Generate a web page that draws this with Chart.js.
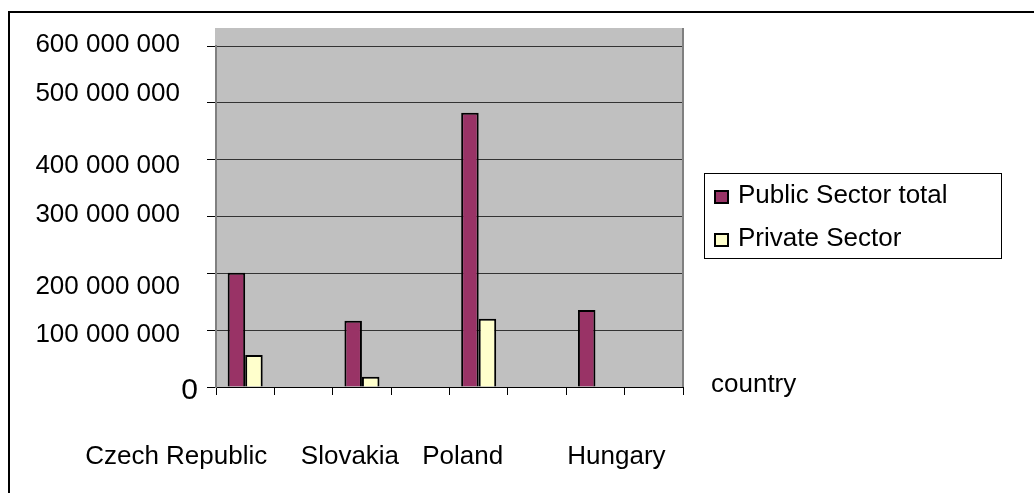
<!DOCTYPE html>
<html>
<head>
<meta charset="utf-8">
<script src="https://cdn.jsdelivr.net/npm/chart.js@4"></script>
<style>
  html, body { margin: 0; padding: 0; background: #fff; }
</style>
</head>
<body>
<canvas id="chart" width="1034" height="493"></canvas>
<script>
const categories = ["Czech Republic", "", "Slovakia", "", "Poland", "", "Hungary", ""];
const publicSector = [201000000, null, 116700000, null, 482700000, null, 135500000, null];
const privateSector = [56300000, null, 18100000, null, 120200000, null, null, null];
const seriesNames = ["Public Sector total", "Private Sector"];
const axisTitle = "country";

// hand placement of the texts, the way the original sheet laid them out
const xLabelShift = [-69, 0, -12, 0, -16, 0, 21, 0];
const yLabelShift = [4, 4.5, 13, -2, 6, -9.5, -1.5];

const FONT = "'Liberation Sans', Arial, sans-serif";
const fmt = (v) => String(v).replace(/\B(?=(\d{3})+(?!\d))/g, " ");

const excelLook = {
    id: "excelLook",
    beforeDraw(chart) {
        const { ctx, chartArea: a } = chart;
        ctx.save();
        ctx.fillStyle = "#c0c0c0";
        ctx.fillRect(a.left - 1, a.top - 18, a.right - a.left + 1, a.bottom - a.top + 18);
        ctx.restore();
    },
    beforeDatasetsDraw(chart) {
        const { ctx, chartArea: a } = chart;
        ctx.save();
        ctx.strokeStyle = "#808080";
        ctx.lineWidth = 2;
        ctx.beginPath();
        ctx.moveTo(a.right, a.top - 18);
        ctx.lineTo(a.right, a.bottom);
        ctx.stroke();
        ctx.restore();
    },
    afterDraw(chart) {
        const { ctx, chartArea: a } = chart;
        const x = chart.scales.x;
        const y = chart.scales.y;
        ctx.save();
        ctx.fillStyle = "#000";

        // value labels
        ctx.textAlign = "right";
        ctx.textBaseline = "middle";
        y.ticks.forEach((t, i) => {
            const zero = t.value === 0;
            ctx.font = (zero ? 30 : 26) + "px " + FONT;
            ctx.fillText(fmt(t.value), zero ? a.left - 18 : a.left - 36,
                y.getPixelForValue(t.value) + (yLabelShift[i] || 0));
        });

        // country labels
        ctx.font = "26px " + FONT;
        ctx.textAlign = "center";
        categories.forEach((c, i) => {
            if (!c) return;
            ctx.fillText(c, x.getPixelForValue(i) + xLabelShift[i], a.bottom + 70);
        });

        // axis title
        ctx.textAlign = "left";
        ctx.textBaseline = "alphabetic";
        ctx.fillText(axisTitle, a.right + 28, a.bottom + 5);

        // legend
        const lx = a.right + 21, ly = a.top + 127;
        ctx.strokeStyle = "#000";
        ctx.lineWidth = 1;
        ctx.strokeRect(lx + 0.5, ly + 0.5, 297, 85);
        ctx.textBaseline = "middle";
        chart.data.datasets.forEach((ds, i) => {
            const cy = ly + 24 + i * 43;
            ctx.fillStyle = ds.backgroundColor;
            ctx.fillRect(lx + 10, cy - 7, 15, 14);
            ctx.lineWidth = 2;
            ctx.strokeRect(lx + 11, cy - 6, 13, 12);
            ctx.fillStyle = "#000";
            ctx.fillText(ds.label, lx + 34, cy - 1);
        });

        // outer frame
        ctx.fillRect(8, 11, chart.width, 2);
        ctx.fillRect(8, 11, 2, chart.height);
        ctx.restore();
    }
};

new Chart(document.getElementById("chart"), {
    type: "bar",
    data: {
        labels: categories,
        datasets: [
            {
                label: seriesNames[0],
                data: publicSector,
                backgroundColor: "#993366",
                borderColor: "#000",
                borderWidth: 2
            },
            {
                label: seriesNames[1],
                data: privateSector,
                backgroundColor: "#ffffcc",
                borderColor: "#000",
                borderWidth: 2
            }
        ]
    },
    options: {
        responsive: false,
        animation: false,
        layout: { padding: { left: 0, right: 351, top: 46, bottom: 0 } },
        plugins: {
            legend: { display: false },
            tooltip: { enabled: false }
        },
        datasets: {
            bar: { categoryPercentage: 0.6, barPercentage: 1.0 }
        },
        scales: {
            x: {
                grid: {
                    offset: true,
                    drawOnChartArea: false,
                    tickLength: 8,
                    color: "#000"
                },
                border: { color: "#000", width: 1 },
                ticks: { display: false },
                afterFit: (scale) => { scale.height = 106; }
            },
            y: {
                min: 0,
                max: 600000000,
                ticks: { stepSize: 100000000, display: false },
                grid: { color: "#333", tickLength: 9, tickColor: "#000" },
                border: { color: "#808080", width: 2 },
                afterFit: (scale) => { scale.width = 216; }
            }
        }
    },
    plugins: [excelLook]
});
</script>
</body>
</html>
